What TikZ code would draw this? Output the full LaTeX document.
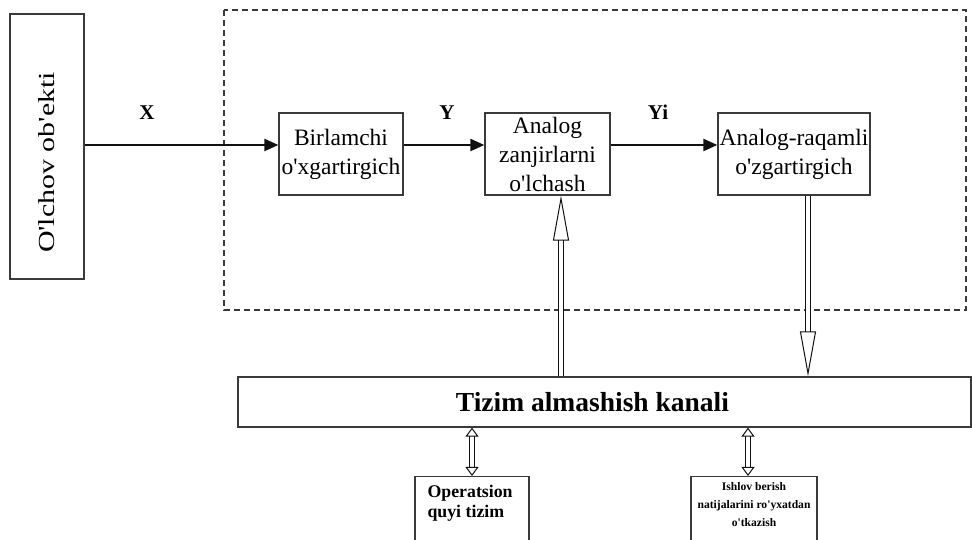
\documentclass[tikz,border=0pt]{standalone}
\usepackage{fontspec}
\setmainfont{Liberation Serif}[Ligatures=TeXOff]
\usetikzlibrary{positioning, arrows.meta, calc}
\definecolor{boxLine}{HTML}{3A3A3A}
\definecolor{flowBlack}{HTML}{111111}

\begin{document}
\begin{tikzpicture}[x=1pt, y=1pt,
        every node/.style={inner sep=0pt},
        blockbox/.style={rectangle, draw=boxLine, line width=1.3pt, align=center,
                         font=\fontsize{23.5}{29}\selectfont},
        sigtext/.style={font=\fontsize{21}{24}\selectfont\bfseries},
        arr/.style={-{Triangle[length=14pt, width=12pt]}, flowBlack, line width=2.4pt},
        hollow/.style={double=white, double distance=4.5pt, line width=1pt, flowBlack,
                       -{Triangle[open, length=45pt, width=16pt, line width=1pt]}},
        hollowtwo/.style={double=white, double distance=4pt, line width=1pt, flowBlack,
                          {Triangle[open, length=9pt, width=13pt, line width=1pt]}-{Triangle[open, length=9pt, width=13pt, line width=1pt]}},
      ]
        \useasboundingbox (0,0) rectangle (972,540);

        % Measured object
        \node[blockbox, minimum width=74pt, minimum height=265pt] (obj) at (47,393.5)
             {\rotatebox{90}{\scalebox{1.3}[1]{\fontsize{23}{28}\selectfont O'lchov ob'ekti}\hspace*{32pt}}};

        % Measuring part (dashed frame)
        \draw[boxLine, line width=1.2pt, dash pattern=on 6pt off 4pt] (224,530) rectangle (966,230);

        \node[blockbox, minimum width=124pt, minimum height=82pt] (prim) at (341,386)
             {Birlamchi\\o'xgartirgich};
        \node[blockbox, minimum width=125pt, minimum height=82pt] (zanj) at (547.5,386)
             {Analog\\zanjirlarni\\o'lchash};
        \node[blockbox, minimum width=152pt, minimum height=82pt] (adc) at (794,386)
             {Analog-raqamli\\o'zgartirgich};

        % Signal level of the chain
        \coordinate (lvl) at (0,395);
        \draw[arr] (obj.east |- lvl) -- (prim.west |- lvl);
        \draw[arr] (prim.east |- lvl) -- (zanj.west |- lvl);
        \draw[arr] (zanj.east |- lvl) -- (adc.west |- lvl);
        \node[sigtext] (lx) at (147,427) {X};
        \node[sigtext] (ly) at (447,427) {Y};
        \node[sigtext] (lyi) at (658,428) {Yi};

        % System exchange channel
        \node[blockbox, minimum width=733pt, minimum height=50pt,
              font=\fontsize{27.5}{30}\selectfont\bfseries] (bus) at (604.5,138)
             {\hspace*{-24pt}Tizim almashish kanali};

        \draw[hollow] (bus.north -| 561,0) -- ([xshift=13.5pt]zanj.south);
        \draw[hollow] ([xshift=14pt]adc.south) -- (bus.north -| 808,0);

        % Lower subsystems
        \node[blockbox, minimum width=114pt, minimum height=84pt, anchor=north] (ops) at (472,64) {};
        \node[font=\fontsize{17.8}{20}\selectfont\bfseries, align=left, anchor=north west]
             (opstext) at ([xshift=13pt, yshift=-9pt]ops.north west) {Operatsion\\quyi tizim};
        \node[blockbox, minimum width=126pt, minimum height=84pt, anchor=north] (reg) at (754,64) {};
        \node[font=\fontsize{11.6}{18}\selectfont\bfseries, align=center, anchor=north]
             (regtext) at ([yshift=-6pt]reg.north) {Ishlov berish\\natijalarini ro'yxatdan\\o'tkazish};

        \draw[hollowtwo] (bus.south -| ops.north) -- (ops.north);
        \draw[hollowtwo] (bus.south -| 748,0) -- (reg.north -| 748,0);
      \end{tikzpicture}
\end{document}
